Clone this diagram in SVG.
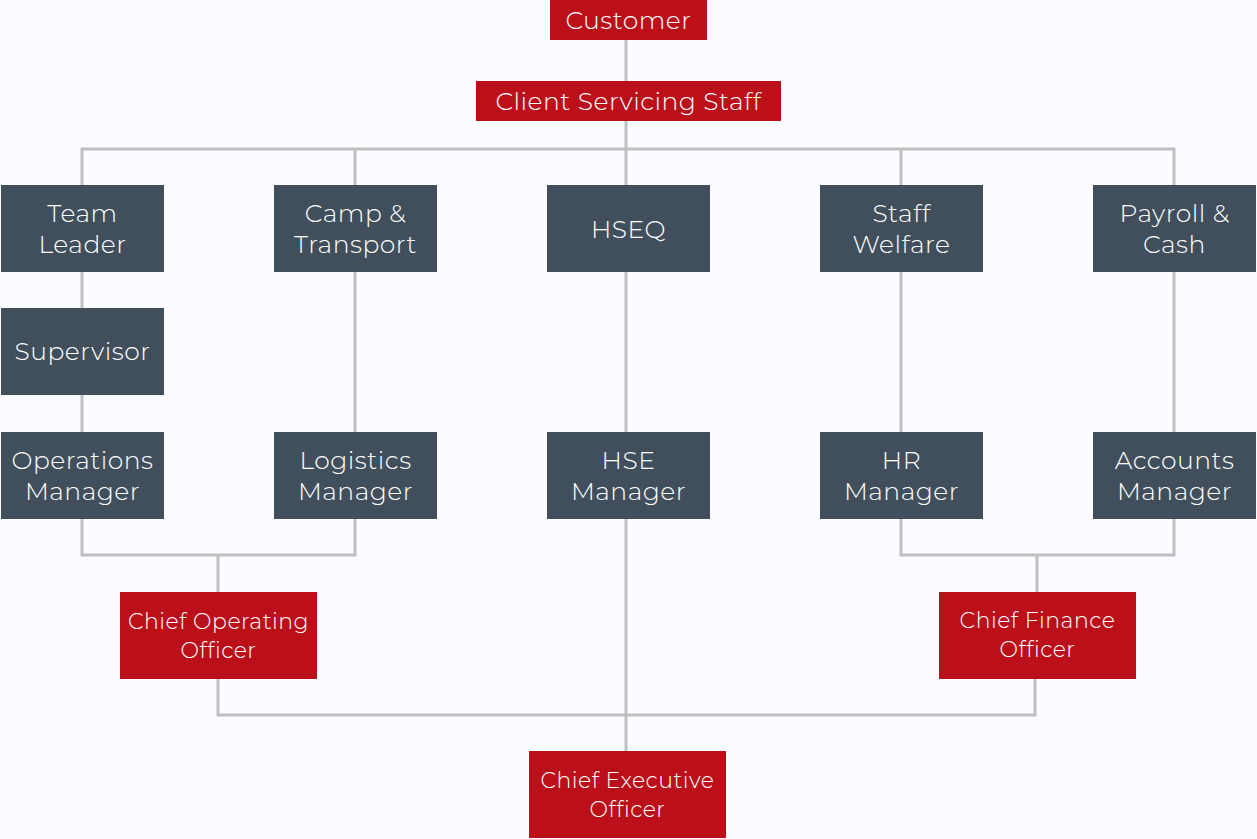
<svg xmlns="http://www.w3.org/2000/svg" width="1257" height="839" viewBox="0 0 1257 839">
<style>
.bg{fill:#fafcff}
.red{fill:#bb0f19}
.dark{fill:#414f5c}
.t{fill:#ffffff;font-family:Montserrat,"Lato","Noto Sans",sans-serif;font-weight:300;text-anchor:middle;font-size:25px;letter-spacing:0.5px}
.s{font-size:22px}
.c{fill:none;stroke:#bfbfbf;stroke-width:3}
</style>
<rect class="bg" x="0" y="0" width="1257" height="839"/>
<g id="connectors">
<path class="c" d="M626 40V81M626 121V149M82 185V149H1174V185M355 149V185M626 149V185M901 149V185"/>
<path class="c" d="M82 272V308M82 395V432M355 272V432M626 272V432M901 272V432M1174 272V432M626 519V751"/>
<path class="c" d="M82 519V555H355V519M218 555V592M901 519V555H1174V519M1037 555V592"/>
<path class="c" d="M218 679V715H1035V679"/>
</g>
<g id="customer"><rect class="red" x="550" y="0" width="157" height="40"/><text class="t" x="628.5" y="29">Customer</text></g>
<g id="client-servicing"><rect class="red" x="476" y="81" width="305" height="40"/><text class="t" x="628.5" y="110">Client Servicing Staff</text></g>
<g id="team-leader"><rect class="dark" x="1" y="185" width="163" height="87"/><text class="t" x="82.5" y="222">Team</text><text class="t" x="82.5" y="253">Leader</text></g>
<g id="camp"><rect class="dark" x="274" y="185" width="163" height="87"/><text class="t" x="355.5" y="222">Camp &amp;</text><text class="t" x="355.5" y="253">Transport</text></g>
<g id="hseq"><rect class="dark" x="547" y="185" width="163" height="87"/><text class="t" x="628.5" y="238">HSEQ</text></g>
<g id="staff-welfare"><rect class="dark" x="820" y="185" width="163" height="87"/><text class="t" x="901.5" y="222">Staff</text><text class="t" x="901.5" y="253">Welfare</text></g>
<g id="payroll"><rect class="dark" x="1093" y="185" width="163" height="87"/><text class="t" x="1174.5" y="222">Payroll &amp;</text><text class="t" x="1174.5" y="253">Cash</text></g>
<g id="supervisor"><rect class="dark" x="1" y="308" width="163" height="87"/><text class="t" x="82.5" y="360">Supervisor</text></g>
<g id="ops-manager"><rect class="dark" x="1" y="432" width="163" height="87"/><text class="t" x="82.5" y="469">Operations</text><text class="t" x="82.5" y="500">Manager</text></g>
<g id="logistics-manager"><rect class="dark" x="274" y="432" width="163" height="87"/><text class="t" x="355.5" y="469">Logistics</text><text class="t" x="355.5" y="500">Manager</text></g>
<g id="hse-manager"><rect class="dark" x="547" y="432" width="163" height="87"/><text class="t" x="628.5" y="469">HSE</text><text class="t" x="628.5" y="500">Manager</text></g>
<g id="hr-manager"><rect class="dark" x="820" y="432" width="163" height="87"/><text class="t" x="901.5" y="469">HR</text><text class="t" x="901.5" y="500">Manager</text></g>
<g id="accounts-manager"><rect class="dark" x="1093" y="432" width="163" height="87"/><text class="t" x="1174.5" y="469">Accounts</text><text class="t" x="1174.5" y="500">Manager</text></g>
<g id="coo"><rect class="red" x="120" y="592" width="197" height="87"/><text class="t s" x="218.5" y="629">Chief Operating</text><text class="t s" x="218.5" y="658">Officer</text></g>
<g id="cfo"><rect class="red" x="939" y="592" width="197" height="87"/><text class="t s" x="1037.5" y="628">Chief Finance</text><text class="t s" x="1037.5" y="657">Officer</text></g>
<g id="ceo"><rect class="red" x="529" y="751" width="197" height="87"/><text class="t s" x="627.5" y="788">Chief Executive</text><text class="t s" x="627.5" y="817">Officer</text></g>
</svg>
